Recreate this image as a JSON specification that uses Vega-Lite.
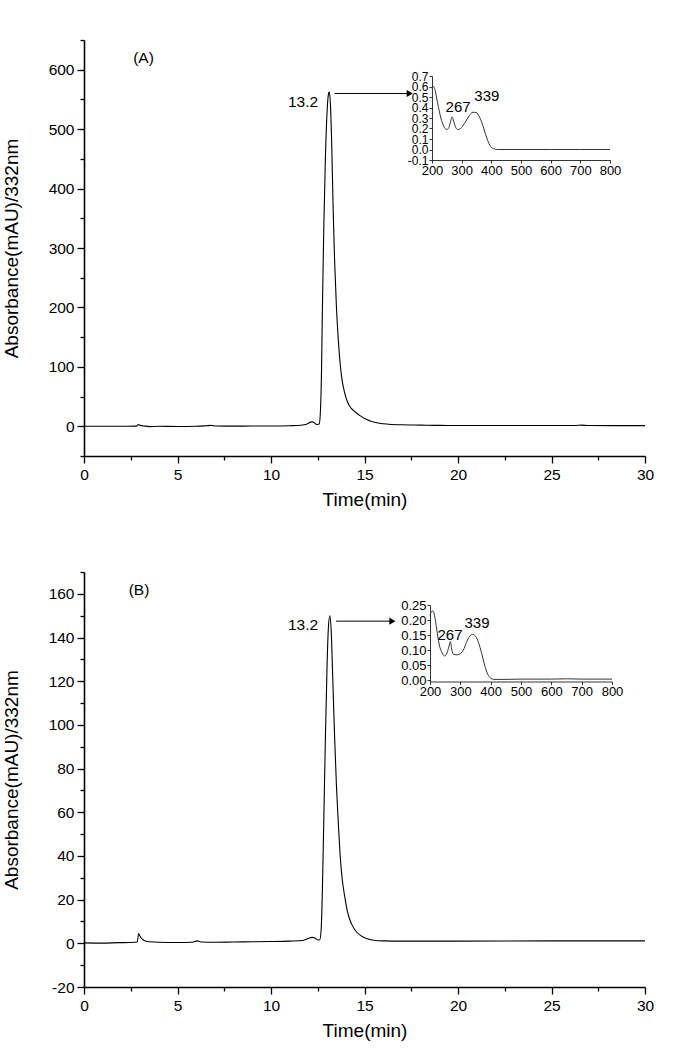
{
  "$schema": "https://vega.github.io/schema/vega-lite/v6.json",
  "padding": {"left": 2, "top": 39, "right": 10, "bottom": 5},
  "spacing": 61,
  "config": {
    "view": {"stroke": null},
    "font": "Liberation Sans",
    "axis": {"grid": false, "domainColor": "black", "tickColor": "black", "labelColor": "black", "titleColor": "black", "labelFont": "Liberation Sans", "titleFont": "Liberation Sans", "titleFontWeight": "normal", "labelOverlap": false, "labelFlush": false},
    "text": {"font": "Liberation Sans", "color": "black"}
  },
  "datasets": {
    "chromA": [
      {"t": 0, "v": 0}, {"t": 1, "v": 0}, {"t": 2, "v": 0}, {"t": 2.8, "v": 0.2}, {"t": 2.9, "v": 3}, {"t": 3.0, "v": 1.5}, {"t": 3.2, "v": 0.5}, {"t": 3.5, "v": -0.5}, {"t": 4, "v": 0}, {"t": 5, "v": -0.3}, {"t": 6, "v": 0}, {"t": 6.5, "v": 0.8}, {"t": 6.8, "v": 1.5}, {"t": 7.1, "v": 0.5}, {"t": 8, "v": 0.2}, {"t": 9, "v": 0.5}, {"t": 10, "v": 0.5}, {"t": 11, "v": 1}, {"t": 11.6, "v": 1.8}, {"t": 11.9, "v": 3.5},
      {"t": 12.0, "v": 5}, {"t": 12.1, "v": 7}, {"t": 12.2, "v": 7.5}, {"t": 12.3, "v": 6.5}, {"t": 12.42, "v": 3.5}, {"t": 12.5, "v": 3}, {"t": 12.58, "v": 4}, {"t": 12.65, "v": 30}, {"t": 12.7, "v": 90}, {"t": 12.75, "v": 200}, {"t": 12.82, "v": 330}, {"t": 12.9, "v": 440}, {"t": 13.0, "v": 530}, {"t": 13.08, "v": 560}, {"t": 13.12, "v": 563}, {"t": 13.18, "v": 540}, {"t": 13.25, "v": 470}, {"t": 13.32, "v": 370}, {"t": 13.4, "v": 280}, {"t": 13.5, "v": 200}, {"t": 13.6, "v": 145}, {"t": 13.7, "v": 105}, {"t": 13.8, "v": 78}, {"t": 13.95, "v": 55}, {"t": 14.1, "v": 40}, {"t": 14.3, "v": 30}, {"t": 14.5, "v": 24}, {"t": 14.76, "v": 18}, {"t": 15.0, "v": 13}, {"t": 15.3, "v": 9}, {"t": 15.8, "v": 5}, {"t": 16.3, "v": 3.5}, {"t": 17, "v": 2.5}, {"t": 18, "v": 2}, {"t": 19, "v": 1.5}, {"t": 20, "v": 1.4}, {"t": 22, "v": 1.3}, {"t": 25, "v": 1.3}, {"t": 26.3, "v": 1.4}, {"t": 26.6, "v": 1.9}, {"t": 27, "v": 1.2}, {"t": 30, "v": 1.1}
    ],
    "chromB": [
      {"t": 0, "v": 0.2}, {"t": 1, "v": 0.1}, {"t": 1.8, "v": 0.3}, {"t": 2.5, "v": 0.4}, {"t": 2.85, "v": 0.6}, {"t": 2.92, "v": 4.5}, {"t": 3.0, "v": 3.2}, {"t": 3.1, "v": 2}, {"t": 3.25, "v": 1.2}, {"t": 3.5, "v": 0.7}, {"t": 4, "v": 0.5}, {"t": 5, "v": 0.4}, {"t": 5.8, "v": 0.5}, {"t": 6.05, "v": 1.1}, {"t": 6.3, "v": 0.6}, {"t": 7, "v": 0.5}, {"t": 8, "v": 0.6}, {"t": 9, "v": 0.7}, {"t": 10, "v": 0.8}, {"t": 11, "v": 1}, {"t": 11.7, "v": 1.3},
      {"t": 12.0, "v": 2.2}, {"t": 12.2, "v": 2.7}, {"t": 12.35, "v": 2.4}, {"t": 12.5, "v": 1.6}, {"t": 12.6, "v": 1.5}, {"t": 12.68, "v": 6}, {"t": 12.75, "v": 25}, {"t": 12.82, "v": 55}, {"t": 12.9, "v": 90}, {"t": 13.0, "v": 128}, {"t": 13.08, "v": 146}, {"t": 13.15, "v": 150}, {"t": 13.22, "v": 143}, {"t": 13.3, "v": 122}, {"t": 13.4, "v": 95}, {"t": 13.5, "v": 72}, {"t": 13.6, "v": 55}, {"t": 13.7, "v": 40}, {"t": 13.8, "v": 30}, {"t": 13.95, "v": 21}, {"t": 14.1, "v": 14}, {"t": 14.3, "v": 9}, {"t": 14.5, "v": 6}, {"t": 14.8, "v": 3.5}, {"t": 15.1, "v": 2.2}, {"t": 15.5, "v": 1.4}, {"t": 16, "v": 1.1}, {"t": 17, "v": 1}, {"t": 20, "v": 1}, {"t": 25, "v": 1.1}, {"t": 30, "v": 1.1}
    ],
    "specA": [
      {"nm": 200, "a": 0.58}, {"nm": 205, "a": 0.6}, {"nm": 210, "a": 0.57}, {"nm": 215, "a": 0.5}, {"nm": 222, "a": 0.4}, {"nm": 230, "a": 0.3}, {"nm": 240, "a": 0.22}, {"nm": 250, "a": 0.19}, {"nm": 257, "a": 0.21}, {"nm": 263, "a": 0.27}, {"nm": 268, "a": 0.31}, {"nm": 273, "a": 0.27}, {"nm": 280, "a": 0.21}, {"nm": 288, "a": 0.19}, {"nm": 300, "a": 0.21}, {"nm": 312, "a": 0.26}, {"nm": 325, "a": 0.32}, {"nm": 338, "a": 0.355}, {"nm": 350, "a": 0.35}, {"nm": 360, "a": 0.31}, {"nm": 370, "a": 0.24}, {"nm": 380, "a": 0.15}, {"nm": 390, "a": 0.07}, {"nm": 400, "a": 0.02}, {"nm": 410, "a": 0.005}, {"nm": 420, "a": 0}, {"nm": 500, "a": 0}, {"nm": 600, "a": 0}, {"nm": 700, "a": 0}, {"nm": 800, "a": 0}
    ],
    "specB": [
      {"nm": 200, "a": 0.215}, {"nm": 205, "a": 0.228}, {"nm": 210, "a": 0.23}, {"nm": 215, "a": 0.215}, {"nm": 222, "a": 0.17}, {"nm": 230, "a": 0.12}, {"nm": 240, "a": 0.09}, {"nm": 248, "a": 0.08}, {"nm": 256, "a": 0.09}, {"nm": 262, "a": 0.11}, {"nm": 267, "a": 0.128}, {"nm": 272, "a": 0.1}, {"nm": 278, "a": 0.085}, {"nm": 290, "a": 0.084}, {"nm": 300, "a": 0.088}, {"nm": 310, "a": 0.1}, {"nm": 320, "a": 0.125}, {"nm": 330, "a": 0.145}, {"nm": 340, "a": 0.152}, {"nm": 350, "a": 0.146}, {"nm": 360, "a": 0.125}, {"nm": 370, "a": 0.09}, {"nm": 380, "a": 0.05}, {"nm": 390, "a": 0.02}, {"nm": 400, "a": 0.006}, {"nm": 410, "a": 0.002}, {"nm": 450, "a": 0.002}, {"nm": 500, "a": 0.003}, {"nm": 600, "a": 0.003}, {"nm": 650, "a": 0.004}, {"nm": 700, "a": 0.003}, {"nm": 800, "a": 0.003}
    ],
    "annA": [{"x": 3.18, "y": 619, "label": "(A)"}, {"x": 11.71, "y": 546, "label": "13.2"}],
    "annB": [{"x": 2.94, "y": 161.7, "label": "(B)"}, {"x": 11.71, "y": 145.7, "label": "13.2"}],
    "arrowA": [{"x1": 13.4, "x2": 17.4, "xh": 17.42, "y": 560}],
    "arrowB": [{"x1": 13.48, "x2": 16.5, "xh": 16.49, "y": 147.5}],
    "peaksA": [{"nm": 288, "a": 0.405, "label": "267"}, {"nm": 385, "a": 0.51, "label": "339"}],
    "peaksB": [{"nm": 266, "a": 0.15, "label": "267"}, {"nm": 355, "a": 0.19, "label": "339"}]
  },
  "vconcat": [
    {
      "width": 561, "height": 416,
      "layer": [
        {"layer": [
          {"data": {"name": "chromA"}, "mark": {"type": "line", "color": "black", "strokeWidth": 1.1, "interpolate": "monotone"},
           "encoding": {
             "x": {"field": "t", "type": "quantitative", "scale": {"domain": [0, 30], "nice": false, "zero": false},
                   "axis": {"title": "Time(min)", "values": [0, 5, 10, 15, 20, 25, 30], "tickSize": 7, "domainWidth": 1.6, "tickWidth": 1.3, "labelFontSize": 15.5, "titleFontSize": 19, "labelPadding": 4, "titlePadding": 8}},
             "y": {"field": "v", "type": "quantitative", "scale": {"domain": [-50, 650], "nice": false, "zero": false},
                   "axis": {"title": "Absorbance(mAU)/332nm", "values": [0, 100, 200, 300, 400, 500, 600], "tickSize": 7, "domainWidth": 1.6, "tickWidth": 1.3, "labelFontSize": 15.5, "titleFontSize": 19, "labelPadding": 3, "titlePadding": 27}}
           }},
          {"data": {"name": "annA"}, "mark": {"type": "text", "fontSize": 15.5}, "encoding": {"x": {"field": "x", "type": "quantitative"}, "y": {"field": "y", "type": "quantitative"}, "text": {"field": "label"}}},
          {"data": {"name": "arrowA"}, "mark": {"type": "rule", "color": "black", "strokeWidth": 1}, "encoding": {"x": {"field": "x1", "type": "quantitative"}, "x2": {"field": "x2"}, "y": {"field": "y", "type": "quantitative"}}},
          {"data": {"name": "arrowA"}, "mark": {"type": "point", "shape": "triangle-right", "filled": true, "color": "black", "size": 50, "opacity": 1}, "encoding": {"x": {"field": "xh", "type": "quantitative"}, "y": {"field": "y", "type": "quantitative"}}}
        ]},
        {"data": {"name": "chromA"}, "mark": {"type": "line", "opacity": 0},
         "encoding": {
           "x": {"field": "t", "type": "quantitative", "scale": {"domain": [0, 30], "nice": false, "zero": false},
                 "axis": {"orient": "bottom", "title": null, "labels": false, "domain": false, "values": [2.5, 7.5, 12.5, 17.5, 22.5, 27.5], "tickSize": 4, "tickWidth": 1.3}},
           "y": {"field": "v", "type": "quantitative", "scale": {"domain": [-50, 650], "nice": false, "zero": false},
                 "axis": {"orient": "left", "title": null, "labels": false, "domain": false, "values": [-50, 50, 150, 250, 350, 450, 550, 650], "tickSize": 4, "tickWidth": 1.3}}
         }},
        {"layer": [
          {"data": {"name": "specA"}, "mark": {"type": "line", "color": "#333", "strokeWidth": 1, "interpolate": "monotone"},
           "encoding": {
             "x": {"field": "nm", "type": "quantitative", "scale": {"domain": [200, 800], "range": [348, 526], "nice": false, "zero": false},
                   "axis": {"orient": "bottom", "offset": -296, "title": null, "values": [200, 300, 400, 500, 600, 700, 800], "tickSize": 3, "tickWidth": 0.8, "domainWidth": 0.8, "labelFontSize": 13, "labelPadding": 1}},
             "y": {"field": "a", "type": "quantitative", "scale": {"domain": [-0.1, 0.7], "range": [120, 36], "nice": false, "zero": false},
                   "axis": {"orient": "left", "offset": -348, "title": null, "values": [-0.1, 0, 0.1, 0.2, 0.3, 0.4, 0.5, 0.6, 0.7], "format": ".1f", "labelExpr": "replace(datum.label, '\u2212', '-')", "tickSize": 3, "tickWidth": 0.8, "domainWidth": 0.8, "labelFontSize": 12, "labelPadding": 1}}
           }},
          {"data": {"name": "peaksA"}, "mark": {"type": "text", "fontSize": 15}, "encoding": {"x": {"field": "nm", "type": "quantitative"}, "y": {"field": "a", "type": "quantitative"}, "text": {"field": "label"}}}
        ]}
      ],
      "resolve": {"scale": {"x": "independent", "y": "independent"}}
    },
    {
      "width": 561, "height": 415,
      "layer": [
        {"layer": [
          {"data": {"name": "chromB"}, "mark": {"type": "line", "color": "black", "strokeWidth": 1.1, "interpolate": "monotone"},
           "encoding": {
             "x": {"field": "t", "type": "quantitative", "scale": {"domain": [0, 30], "nice": false, "zero": false},
                   "axis": {"title": "Time(min)", "values": [0, 5, 10, 15, 20, 25, 30], "tickSize": 7, "domainWidth": 1.6, "tickWidth": 1.3, "labelFontSize": 15.5, "titleFontSize": 19, "labelPadding": 4, "titlePadding": 8}},
             "y": {"field": "v", "type": "quantitative", "scale": {"domain": [-20, 170], "nice": false, "zero": false},
                   "axis": {"title": "Absorbance(mAU)/332nm", "values": [-20, 0, 20, 40, 60, 80, 100, 120, 140, 160], "labelExpr": "replace(datum.label, '\u2212', '-')", "tickSize": 7, "domainWidth": 1.6, "tickWidth": 1.3, "labelFontSize": 15.5, "titleFontSize": 19, "labelPadding": 3, "titlePadding": 27}}
           }},
          {"data": {"name": "annB"}, "mark": {"type": "text", "fontSize": 15.5}, "encoding": {"x": {"field": "x", "type": "quantitative"}, "y": {"field": "y", "type": "quantitative"}, "text": {"field": "label"}}},
          {"data": {"name": "arrowB"}, "mark": {"type": "rule", "color": "black", "strokeWidth": 1}, "encoding": {"x": {"field": "x1", "type": "quantitative"}, "x2": {"field": "x2"}, "y": {"field": "y", "type": "quantitative"}}},
          {"data": {"name": "arrowB"}, "mark": {"type": "point", "shape": "triangle-right", "filled": true, "color": "black", "size": 50, "opacity": 1}, "encoding": {"x": {"field": "xh", "type": "quantitative"}, "y": {"field": "y", "type": "quantitative"}}}
        ]},
        {"data": {"name": "chromB"}, "mark": {"type": "line", "opacity": 0},
         "encoding": {
           "x": {"field": "t", "type": "quantitative", "scale": {"domain": [0, 30], "nice": false, "zero": false},
                 "axis": {"orient": "bottom", "title": null, "labels": false, "domain": false, "values": [2.5, 7.5, 12.5, 17.5, 22.5, 27.5], "tickSize": 4, "tickWidth": 1.3}},
           "y": {"field": "v", "type": "quantitative", "scale": {"domain": [-20, 170], "nice": false, "zero": false},
                 "axis": {"orient": "left", "title": null, "labels": false, "domain": false, "values": [-10, 10, 30, 50, 70, 90, 110, 130, 150, 170], "tickSize": 4, "tickWidth": 1.3}}
         }},
        {"layer": [
          {"data": {"name": "specB"}, "mark": {"type": "line", "color": "#333", "strokeWidth": 1, "interpolate": "monotone"},
           "encoding": {
             "x": {"field": "nm", "type": "quantitative", "scale": {"domain": [200, 800], "range": [346, 528], "nice": false, "zero": false},
                   "axis": {"orient": "bottom", "offset": -305.5, "title": null, "values": [200, 300, 400, 500, 600, 700, 800], "tickSize": 3, "tickWidth": 0.8, "domainWidth": 0.8, "labelFontSize": 13, "labelPadding": 1}},
             "y": {"field": "a", "type": "quantitative", "scale": {"domain": [-0.005, 0.25], "range": [109.5, 33], "nice": false, "zero": false},
                   "axis": {"orient": "left", "offset": -346, "title": null, "values": [0, 0.05, 0.1, 0.15, 0.2, 0.25], "format": ".2f", "tickSize": 3, "tickWidth": 0.8, "domainWidth": 0.8, "labelFontSize": 13, "labelPadding": 1}}
           }},
          {"data": {"name": "peaksB"}, "mark": {"type": "text", "fontSize": 15}, "encoding": {"x": {"field": "nm", "type": "quantitative"}, "y": {"field": "a", "type": "quantitative"}, "text": {"field": "label"}}}
        ]}
      ],
      "resolve": {"scale": {"x": "independent", "y": "independent"}}
    }
  ]
}
